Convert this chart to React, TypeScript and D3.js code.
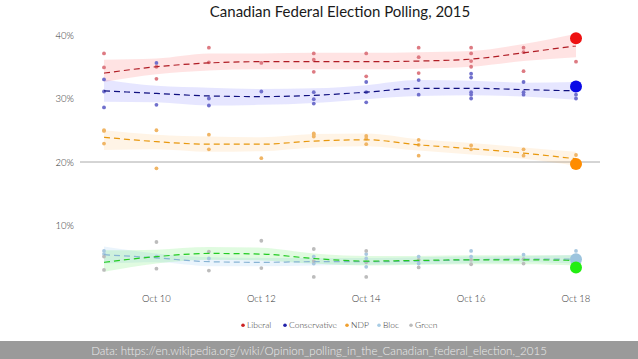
import React from "react";
import * as d3 from "d3";

const days = [
  "2015-10-09", "2015-10-10", "2015-10-11", "2015-10-12", "2015-10-13",
  "2015-10-14", "2015-10-15", "2015-10-16", "2015-10-17", "2015-10-18",
];
const xTicks = ["2015-10-10", "2015-10-12", "2015-10-14", "2015-10-16", "2015-10-18"];
const yTicks = [10, 20, 30, 40];
const parties = ["Liberal", "Conservative", "NDP", "Bloc", "Green"];

// individual polls per day
const liberalPolls = [[37.1, 34.9], [35.0, 33.1], [38.0, 35.7], [35.6], [37.1, 36.1, 34.2], [37.1, 33.5], [38.0, 36.5, 34.0], [38.0, 37.1, 35.9, 35.0], [38.0, 37.3, 34.3], [35.8]];
const conservativePolls = [[33.0, 31.1, 28.6], [35.6, 29.0], [30.0, 28.9], [31.1], [31.0, 29.9, 29.2], [32.6, 31.0, 29.4], [32.9, 30.6], [33.9, 33.3, 31.0, 30.6, 30.0], [32.6, 31.0, 30.6], [30.6, 30.0]];
const ndpPolls = [[25.0, 24.9, 22.9], [25.0, 19.0], [24.3, 22.0], [20.6], [24.5, 24.3, 24.0], [24.1, 23.7, 22.8], [23.5, 22.7, 21.0], [22.6, 22.0], [22.0, 21.0], [21.1]];
const blocPolls = [[6.0, 5.5], [5.1], [4.8], [], [5.1, 4.0], [5.5, 4.8, 3.5], [5.1, 4.0], [6.0, 5.1], [5.4], [6.0]];
const greenPolls = [[5.1, 3.0], [7.4, 3.2], [5.9, 2.9], [7.6, 3.3], [6.3, 4.4, 1.9], [6.0, 4.2, 1.9], [4.6, 3.4], [4.6, 3.9], [4.7, 4.0], []];

// smoothed trend with band
const liberalTrend = [34.0, 35.0, 35.6, 35.8, 35.8, 35.8, 35.9, 36.2, 37.2, 38.3];
const liberalLow = [32.6, 33.8, 34.4, 34.6, 34.6, 34.6, 34.7, 35.0, 35.9, 36.5];
const liberalHigh = [36.1, 36.3, 37.1, 37.1, 37.2, 37.2, 37.3, 37.5, 38.6, 40.2];
const conservativeTrend = [31.2, 30.8, 30.4, 30.3, 30.5, 31.0, 31.6, 31.6, 31.4, 31.2];
const conservativeLow = [29.5, 29.4, 28.9, 29.0, 29.3, 29.9, 30.4, 30.5, 30.3, 29.8];
const conservativeHigh = [33.0, 32.0, 31.7, 31.5, 31.6, 32.1, 32.9, 32.8, 32.5, 32.6];
const ndpTrend = [23.9, 23.2, 22.8, 22.8, 23.3, 23.5, 22.7, 22.1, 21.4, 20.5];
const ndpLow = [21.9, 22.0, 21.6, 21.7, 22.3, 22.5, 21.8, 21.2, 20.5, 19.4];
const ndpHigh = [25.0, 24.3, 24.0, 23.9, 24.4, 24.5, 23.6, 23.0, 22.3, 21.6];
const blocTrend = [5.4, 4.9, 4.3, 4.2, 4.3, 4.3, 4.4, 4.6, 4.7, 4.7];
const blocLow = [4.0, 4.2, 3.6, 3.6, 3.7, 3.8, 3.9, 4.1, 4.2, 4.0];
const blocHigh = [6.7, 5.6, 5.0, 4.9, 4.9, 4.9, 5.0, 5.1, 5.2, 5.4];
const greenTrend = [4.2, 5.1, 5.6, 5.5, 4.8, 4.4, 4.5, 4.6, 4.6, 4.5];
const greenLow = [2.7, 4.0, 4.6, 4.5, 4.0, 3.7, 3.8, 3.9, 3.9, 3.7];
const greenHigh = [6.1, 6.2, 6.6, 6.5, 5.6, 5.2, 5.2, 5.3, 5.3, 5.3];

// election result
const results = [39.5, 31.9, 19.7, 4.7, 3.4];

const series = [
  { polls: liberalPolls, trend: liberalTrend, low: liberalLow, high: liberalHigh, point: "#dd7a82", line: "#b01c24", band: "rgba(255,80,80,0.16)", dot: "#ee1111", legend: "#cc2222" },
  { polls: conservativePolls, trend: conservativeTrend, low: conservativeLow, high: conservativeHigh, point: "#7070cc", line: "#101080", band: "rgba(90,90,255,0.15)", dot: "#0a0ae6", legend: "#2222aa" },
  { polls: ndpPolls, trend: ndpTrend, low: ndpLow, high: ndpHigh, point: "#f0b565", line: "#e8980e", band: "rgba(255,170,60,0.13)", dot: "#ff8c00", legend: "#f0a030" },
  { polls: blocPolls, trend: blocTrend, low: blocLow, high: blocHigh, point: "#a8c8e0", line: "#88b4d4", band: "rgba(150,200,240,0.2)", dot: "#9cc4de", legend: "#a8cce4" },
  { polls: greenPolls, trend: greenTrend, low: greenLow, high: greenHigh, point: "#bcbcbc", line: "#22cc22", band: "rgba(60,230,60,0.16)", dot: "#22ee11", legend: "#bbbbbb" },
];

const W = 638;
const H = 359;
const parse = d3.timeParse("%Y-%m-%d");
const fmt = d3.timeFormat("%b %-d");

export default function App() {
  const x = d3.scaleTime().domain([parse(days[0])!, parse(days[9])!]).range([104, 576]);
  const y = d3.scaleLinear().domain([0, 40]).range([289, 35]);
  const dates = days.map((d) => parse(d)!);

  const line = d3.line<number>().x((_, i) => x(dates[i])).y((v) => y(v)).curve(d3.curveMonotoneX);

  const font = "Lato, 'Open Sans', sans-serif";
  const legendWidths = [30, 50, 20, 20, 24];

  return (
    <svg width={W} height={H} style={{ position: "fixed", left: 0, top: 0, background: "#fff" }} fontFamily={font}>
      <text x={340} y={17} textAnchor="middle" fontSize={15} fill="#1a1a1a">
        Canadian Federal Election Polling, 2015
      </text>

      {yTicks.map((t) => (
        <text key={t} x={74} y={y(t) + 3.5} textAnchor="end" fontSize={9.5} fill="#333" fontWeight={300}>
          {t}%
        </text>
      ))}
      <line x1={80} x2={600} y1={y(20)} y2={y(20)} stroke="#aaa" strokeWidth={1} />

      {xTicks.map((t) => (
        <text key={t} x={x(parse(t)!)} y={301.5} textAnchor="middle" fontSize={9.5} fill="#333" fontWeight={300}>
          {fmt(parse(t)!)}
        </text>
      ))}

      {series.map((s, k) => {
        const area = d3
          .area<number>()
          .x((_, i) => x(dates[i]))
          .y0((_, i) => y(s.low[i]))
          .y1((_, i) => y(s.high[i]))
          .curve(d3.curveMonotoneX);
        return <path key={"b" + k} d={area(s.trend) || ""} fill={s.band} />;
      })}

      {series.map((s, k) => (
        <g key={"p" + k}>
          {s.polls.map((vals, i) =>
            vals.map((v, j) => (
              <circle key={i + "-" + j} cx={x(dates[i])} cy={y(v)} r={1.9} fill={s.point} />
            ))
          )}
        </g>
      ))}

      {series.map((s, k) => (
        <path key={"l" + k} d={line(s.trend) || ""} fill="none" stroke={s.line} strokeWidth={1.2} strokeDasharray="6,4" />
      ))}

      {series.map((s, k) => (
        <circle key={"r" + k} cx={x(dates[9])} cy={y(results[k])} r={6} fill={s.dot} />
      ))}

      <g transform="translate(241,328)">
        {(() => {
          let off = 0;
          return parties.map((p, k) => {
            const g = (
              <g key={p} transform={`translate(${off},0)`}>
                <circle cx={2} cy={-2.8} r={1.8} fill={series[k].legend} />
                <text x={6} y={0} fontSize={8.5} fill="#333" fontWeight={300}>{p}</text>
              </g>
            );
            off += 6 + legendWidths[k] + 6;
            return g;
          });
        })()}
      </g>

      <rect x={0} y={341} width={W} height={H - 341} fill="#9a9a9a" />
      <text x={319} y={354.5} textAnchor="middle" fontSize={11.5} fill="#ebebeb" fontWeight={300}>
        Data: https://en.wikipedia.org/wiki/Opinion_polling_in_the_Canadian_federal_election,_2015
      </text>
    </svg>
  );
}
